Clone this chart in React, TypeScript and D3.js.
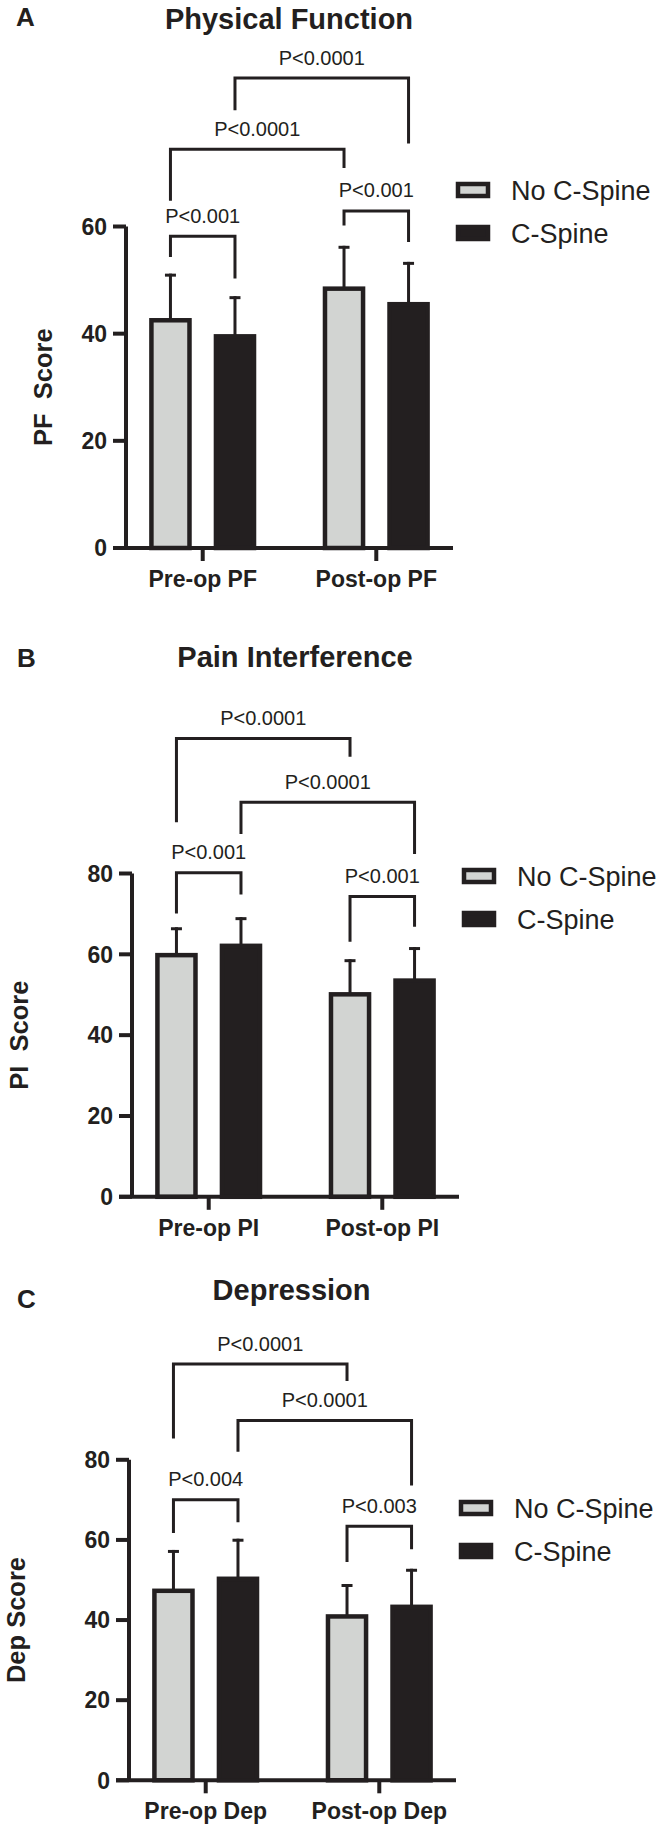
import React from 'react';
import { scaleLinear, scaleBand, scalePoint } from 'd3';

const series = ['No C-Spine', 'C-Spine'];

const pfCategories = ['Pre-op PF', 'Post-op PF'];
const pfMeans = [[42.5, 39.5], [48.4, 45.5]];
const pfErrors = [[8.7, 7.5], [8.0, 7.9]];
const pfTicks = [0, 20, 40, 60];

const piCategories = ['Pre-op PI', 'Post-op PI'];
const piMeans = [[59.8, 62.1], [50.1, 53.5]];
const piErrors = [[6.9, 7.1], [8.7, 8.3]];
const piTicks = [0, 20, 40, 60, 80];

const depCategories = ['Pre-op Dep', 'Post-op Dep'];
const depMeans = [[47.3, 50.3], [40.9, 43.3]];
const depErrors = [[10.2, 10.0], [8.1, 9.5]];
const depTicks = [0, 20, 40, 60, 80];

// brackets: [category, series] for each leg, bracket top and leg ends in score units
type Bracket = { label: string; a: [number, number]; b: [number, number]; top: number; endA: number; endB: number };

const pfBrackets: Bracket[] = [
  { label: 'P<0.001', a: [0, 0], b: [0, 1], top: 58.2, endA: 54.3, endB: 50.3 },
  { label: 'P<0.001', a: [1, 0], b: [1, 1], top: 62.9, endA: 60.2, endB: 57.1 },
  { label: 'P<0.0001', a: [0, 0], b: [1, 0], top: 74.4, endA: 64.8, endB: 70.9 },
  { label: 'P<0.0001', a: [0, 1], b: [1, 1], top: 87.7, endA: 81.7, endB: 75.5 },
];

const piBrackets: Bracket[] = [
  { label: 'P<0.0001', a: [0, 0], b: [1, 0], top: 113.4, endA: 92.7, endB: 108.9 },
  { label: 'P<0.0001', a: [0, 1], b: [1, 1], top: 97.6, endA: 89.8, endB: 84.8 },
  { label: 'P<0.001', a: [0, 0], b: [0, 1], top: 80.2, endA: 70.1, endB: 74.8 },
  { label: 'P<0.001', a: [1, 0], b: [1, 1], top: 74.3, endA: 63.1, endB: 66.8 },
];

const depBrackets: Bracket[] = [
  { label: 'P<0.0001', a: [0, 0], b: [1, 0], top: 103.9, endA: 85.3, endB: 99.7 },
  { label: 'P<0.0001', a: [0, 1], b: [1, 1], top: 89.8, endA: 82.0, endB: 73.6 },
  { label: 'P<0.004', a: [0, 0], b: [0, 1], top: 70.0, endA: 61.7, endB: 64.4 },
  { label: 'P<0.003', a: [1, 0], b: [1, 1], top: 63.4, endA: 54.5, endB: 57.7 },
];

const DARK = '#231f20';
const LIGHT = '#d2d4d2';
const FONT = '"Liberation Sans", Arial, Helvetica, sans-serif';

type PanelProps = {
  letter: string;
  letterX: number;
  letterY: number;
  title: string;
  titleX: number;
  titleY: number;
  yLabel: string;
  yLabelX: number;
  axisX: number;
  y0: number;
  yTop: number;
  ticks: number[];
  categories: string[];
  means: number[][];
  errors: number[][];
  brackets: Bracket[];
  legendY: number;
};

const Panel: React.FC<PanelProps> = (p) => {
  const yMax = p.ticks[p.ticks.length - 1];
  const y = scaleLinear().domain([0, yMax]).range([p.y0, p.yTop]);
  const xEnd = p.axisX + 327;
  const x0 = scalePoint<string>().domain(p.categories).range([p.axisX, xEnd]).padding(0.442);
  const x1 = scaleBand<string>().domain(series).range([-51.3, 51.3]).paddingInner(0.41);
  const bw = x1.bandwidth();
  const cx = (c: number, s: number) => x0(p.categories[c])! + x1(series[s])! + bw / 2;
  const midY = (p.y0 + p.yTop) / 2;

  return (
    <g fontFamily={FONT} fill={DARK}>
      <text x={p.letterX} y={p.letterY} fontSize={26} fontWeight="bold">{p.letter}</text>
      <text x={p.titleX} y={p.titleY} fontSize={29} fontWeight="bold" textAnchor="middle">{p.title}</text>

      {/* bars */}
      {p.categories.map((cat, ci) =>
        series.map((s, si) => {
          const left = x0(cat)! + x1(s)!;
          const top = y(p.means[ci][si]);
          const center = left + bw / 2;
          const errTop = y(p.means[ci][si] + p.errors[ci][si]);
          return (
            <g key={cat + s}>
              <line x1={center} x2={center} y1={top} y2={errTop} stroke={DARK} strokeWidth={3} />
              <line x1={center - 5.5} x2={center + 5.5} y1={errTop + 1.5} y2={errTop + 1.5} stroke={DARK} strokeWidth={3} />
              <rect x={left} y={top} width={bw} height={p.y0 - top}
                fill={si === 0 ? LIGHT : DARK} stroke={DARK} strokeWidth={4.5} />
            </g>
          );
        })
      )}

      {/* y axis */}
      <line x1={p.axisX} x2={p.axisX} y1={p.yTop} y2={p.y0} stroke={DARK} strokeWidth={4} />
      {p.ticks.map(t => (
        <g key={t}>
          <line x1={p.axisX - 13} x2={p.axisX} y1={y(t)} y2={y(t)} stroke={DARK} strokeWidth={4} />
          <text x={p.axisX - 19} y={y(t)} dy="0.36em" textAnchor="end" fontSize={23} fontWeight="bold">{t}</text>
        </g>
      ))}
      {/* x axis */}
      <line x1={p.axisX - 13} x2={xEnd} y1={p.y0} y2={p.y0} stroke={DARK} strokeWidth={4} />
      {p.categories.map(cat => (
        <g key={cat}>
          <line x1={x0(cat)!} x2={x0(cat)!} y1={p.y0} y2={p.y0 + 13} stroke={DARK} strokeWidth={4} />
          <text x={x0(cat)!} y={p.y0 + 39} textAnchor="middle" fontSize={23} fontWeight="bold">{cat}</text>
        </g>
      ))}

      <text transform={`translate(${p.yLabelX},${midY}) rotate(-90)`} dy="0.36em" textAnchor="middle"
        fontSize={25.5} fontWeight="bold">{p.yLabel.replace(/ /g, '\u00a0')}</text>

      {/* brackets */}
      {p.brackets.map((b, i) => {
        const xa = cx(b.a[0], b.a[1]);
        const xb = cx(b.b[0], b.b[1]);
        const yt = y(b.top);
        return (
          <g key={i}>
            <path d={`M${xa},${y(b.endA)}V${yt}H${xb}V${y(b.endB)}`} fill="none" stroke={DARK} strokeWidth={3} />
            <text x={(xa + xb) / 2} y={yt - 13.5} textAnchor="middle" fontSize={20}>{b.label}</text>
          </g>
        );
      })}

      {/* legend */}
      {series.map((s, i) => {
        const cy = p.legendY + i * 43;
        return (
          <g key={s}>
            <rect x={p.axisX + 332} y={cy - 6} width={30} height={12}
              fill={i === 0 ? LIGHT : DARK} stroke={DARK} strokeWidth={4.5} />
            <text x={p.axisX + 385} y={cy} dy="0.36em" fontSize={27}>{s}</text>
          </g>
        );
      })}
    </g>
  );
};

const App: React.FC = () => {
  return (
    <svg width={659} height={1833} style={{ position: 'absolute', left: 0, top: 0, background: '#fff' }}>
      <Panel letter="A" letterX={16} letterY={26} title="Physical Function" titleX={289} titleY={28.5}
        yLabel="PF  Score" yLabelX={43} axisX={126} y0={548} yTop={226.5} ticks={pfTicks}
        categories={pfCategories} means={pfMeans} errors={pfErrors} brackets={pfBrackets} legendY={190} />
      <Panel letter="B" letterX={17} letterY={667} title="Pain Interference" titleX={295} titleY={667}
        yLabel="PI  Score" yLabelX={19} axisX={132} y0={1196.8} yTop={873.5} ticks={piTicks}
        categories={piCategories} means={piMeans} errors={piErrors} brackets={piBrackets} legendY={876} />
      <Panel letter="C" letterX={17} letterY={1308} title="Depression" titleX={291.6} titleY={1300}
        yLabel="Dep Score" yLabelX={16} axisX={129} y0={1780.3} yTop={1459.8} ticks={depTicks}
        categories={depCategories} means={depMeans} errors={depErrors} brackets={depBrackets} legendY={1508} />
    </svg>
  );
};

export default App;
